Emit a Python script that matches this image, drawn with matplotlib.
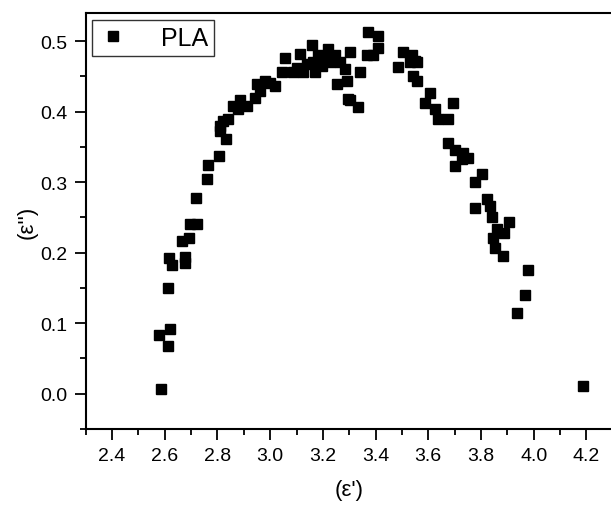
import matplotlib
matplotlib.use("Agg")
import matplotlib.pyplot as plt
from matplotlib.ticker import MultipleLocator

plt.rcParams['font.family'] = ['Liberation Sans', 'DejaVu Sans']

eps_real = [2.587, 2.577, 2.613, 2.619, 2.611, 2.617, 2.629, 2.664, 2.676, 2.677,
            2.693, 2.696, 2.724, 2.719, 2.759, 2.763, 2.807, 2.832, 2.810, 2.810,
            2.822, 2.841, 2.860, 2.879, 2.886, 2.911, 2.943, 2.962, 2.949, 2.980,
            3.000, 3.018, 3.044, 3.056, 3.088, 3.100, 3.113, 3.126, 3.140, 3.158,
            3.164, 3.170, 3.183, 3.196, 3.210, 3.221, 3.227, 3.246, 3.265, 3.284,
            3.303, 3.341, 3.252, 3.290, 3.297, 3.303, 3.335, 3.372, 3.410, 3.410,
            3.366, 3.391, 3.486, 3.505, 3.531, 3.537, 3.550, 3.556, 3.543, 3.556,
            3.607, 3.588, 3.626, 3.638, 3.676, 3.693, 3.676, 3.702, 3.733, 3.752,
            3.727, 3.702, 3.803, 3.777, 3.822, 3.777, 3.834, 3.841, 3.860, 3.907,
            3.888, 3.847, 3.853, 3.885, 3.977, 3.968, 3.937, 4.186]
eps_imag = [0.007, 0.083, 0.067, 0.092, 0.150, 0.192, 0.182, 0.217, 0.186, 0.194,
            0.221, 0.241, 0.241, 0.278, 0.304, 0.325, 0.337, 0.361, 0.373, 0.380,
            0.387, 0.390, 0.408, 0.404, 0.416, 0.408, 0.420, 0.430, 0.439, 0.444,
            0.441, 0.437, 0.456, 0.476, 0.456, 0.462, 0.482, 0.456, 0.468, 0.494,
            0.470, 0.456, 0.481, 0.465, 0.478, 0.489, 0.470, 0.481, 0.470, 0.461,
            0.484, 0.456, 0.439, 0.444, 0.418, 0.416, 0.406, 0.513, 0.508, 0.491,
            0.480, 0.480, 0.463, 0.484, 0.470, 0.480, 0.472, 0.470, 0.451, 0.444,
            0.427, 0.413, 0.404, 0.390, 0.390, 0.413, 0.356, 0.345, 0.342, 0.335,
            0.333, 0.323, 0.311, 0.300, 0.276, 0.264, 0.266, 0.250, 0.233, 0.243,
            0.228, 0.221, 0.207, 0.195, 0.176, 0.140, 0.114, 0.011]

fig = plt.figure(figsize=(6.11, 5.10), dpi=100)
ax = fig.add_axes([0.1403, 0.1569, 0.8625, 0.8157])

ax.plot(eps_real, eps_imag, 's', color='black', markersize=7.7, label='PLA')

ax.set_xlim(2.3, 4.3)
ax.set_ylim(-0.05, 0.54)
ax.xaxis.set_major_locator(MultipleLocator(0.2))
ax.xaxis.set_minor_locator(MultipleLocator(0.1))
ax.yaxis.set_major_locator(MultipleLocator(0.1))
ax.yaxis.set_minor_locator(MultipleLocator(0.05))
ax.xaxis.set_major_formatter(plt.FormatStrFormatter('%.1f'))
ax.yaxis.set_major_formatter(plt.FormatStrFormatter('%.1f'))

ax.tick_params(which='major', direction='out', length=8, width=1.3, labelsize=14, pad=5)
ax.tick_params(which='minor', direction='out', length=4, width=1.3)
ax.tick_params(top=False, right=False)
for s in ax.spines.values():
    s.set_linewidth(1.5)

ax.set_xlabel("(ε')", fontsize=16, labelpad=11)
ax.set_ylabel("(ε'')", fontsize=16, labelpad=2)

leg = ax.legend(loc='upper left', bbox_to_anchor=(0.012, 0.984), borderaxespad=0,
                fontsize=18, frameon=True, fancybox=False, edgecolor='black',
                handlelength=1.2, handletextpad=1.3, borderpad=0.25, markerscale=1.0)
leg.get_frame().set_linewidth(1.0)

fig.savefig('out.png', dpi=100)
